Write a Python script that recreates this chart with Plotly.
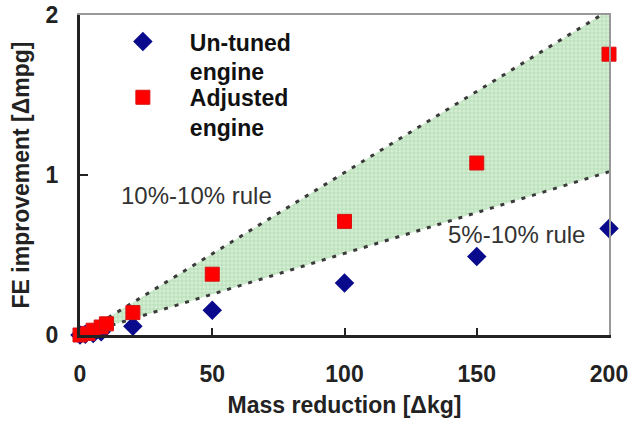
import plotly.graph_objects as go

# Data
untuned_x = [0, 2, 5, 8, 20, 50, 100, 150, 200]
untuned_y = [0.0, 0.005, 0.01, 0.02, 0.055, 0.155, 0.325, 0.49, 0.665]
adjusted_x = [0, 3, 5, 8, 10, 20, 50, 100, 150, 200]
adjusted_y = [0.0, 0.01, 0.03, 0.05, 0.07, 0.14, 0.38, 0.71, 1.075, 1.755]
rule_x = [0, 200]
rule_10_10 = [0, 2.03]
rule_5_10 = [0, 1.02]
x_ticks = [0, 50, 100, 150, 200]
y_ticks = [0, 1, 2]

FONT = "Liberation Sans, Arial, sans-serif"

fig = go.Figure()

# Shaded band between the two rules
fig.add_trace(go.Scatter(x=rule_x, y=rule_5_10, mode="lines", line=dict(width=0),
                         showlegend=False, hoverinfo="skip"))
fig.add_trace(go.Scatter(x=rule_x, y=rule_10_10, mode="lines", line=dict(width=0),
                         fill="tonexty", fillcolor="rgba(200,232,200,1)",
                         fillpattern=dict(shape="+", size=4, solidity=0.35,
                                          fgcolor="rgba(130,195,130,0.9)",
                                          bgcolor="rgba(212,238,212,1)"),
                         showlegend=False, hoverinfo="skip"))
# Dotted rule lines
for ys in (rule_10_10, rule_5_10):
    fig.add_trace(go.Scatter(x=rule_x, y=ys, mode="lines",
                             line=dict(color="#3a3a3a", width=3, dash="4px,7px"),
                             showlegend=False, hoverinfo="skip"))

fig.add_trace(go.Scatter(x=untuned_x, y=untuned_y, mode="markers", name="Un-tuned<br>engine",
                         legend="legend",
                         marker=dict(symbol="diamond", size=15, color="#0a0a8c"),
                         cliponaxis=False))
fig.add_trace(go.Scatter(x=adjusted_x, y=adjusted_y, mode="markers", name="Adjusted<br>engine",
                         legend="legend2",
                         marker=dict(symbol="square", size=14, color="#ff0000",
                                     line=dict(color="#d81010", width=1)),
                         cliponaxis=False))

# Invisible trace on mirror axes to draw the gray top/right frame
fig.add_trace(go.Scatter(x=rule_x, y=rule_5_10, xaxis="x2", yaxis="y2", mode="lines",
                         line=dict(width=0), showlegend=False, hoverinfo="skip"))

fig.add_annotation(x=44, y=0.875, text="10%-10% rule", showarrow=False,
                   font=dict(family=FONT, size=24, color="#333333"))
fig.add_annotation(x=165, y=0.63, text="5%-10% rule", showarrow=False,
                   font=dict(family=FONT, size=24, color="#333333"))

legend_font = dict(family=FONT, size=23, color="#111111", weight="bold")
fig.update_layout(
    width=631, height=423,
    margin=dict(l=80, r=22, t=15, b=88),
    paper_bgcolor="white", plot_bgcolor="white",
    font=dict(family=FONT, size=22, color="#222222"),
    showlegend=True,
    legend=dict(x=0.03, y=0.984, xanchor="left", yanchor="top", bgcolor="rgba(0,0,0,0)",
                font=legend_font, valign="top", itemwidth=84),
    legend2=dict(x=0.03, y=0.81, xanchor="left", yanchor="top", bgcolor="rgba(0,0,0,0)",
                 font=legend_font, valign="top", itemwidth=84),
    xaxis=dict(range=[0, 200], tickvals=x_ticks, showgrid=False, zeroline=False,
               automargin=False,
               showline=True, linecolor="#222222", linewidth=3,
               ticks="inside", ticklen=7, tickwidth=2, tickcolor="#222222",
               ticklabelstandoff=16,
               tickfont=dict(family=FONT, size=23, weight="bold"),
               title=dict(text="Mass reduction [Δkg]", standoff=12,
                          font=dict(family=FONT, size=23, weight="bold"))),
    yaxis=dict(range=[0, 2], tickvals=y_ticks, showgrid=False, zeroline=False,
               automargin=False,
               showline=True, linecolor="#222222", linewidth=3,
               ticks="inside", ticklen=8, tickwidth=2, tickcolor="#222222",
               ticklabelstandoff=14,
               tickfont=dict(family=FONT, size=23, weight="bold"),
               title=dict(text="FE improvement [Δmpg]", standoff=10,
                          font=dict(family=FONT, size=23, weight="bold"))),
    xaxis2=dict(range=[0, 200], overlaying="x", side="top", anchor="y2", automargin=False,
                showline=True, linecolor="#999999", linewidth=2,
                showticklabels=False, ticks="", showgrid=False, zeroline=False),
    yaxis2=dict(range=[0, 2], overlaying="y", side="right", anchor="x2", automargin=False,
                showline=True, linecolor="#999999", linewidth=2,
                showticklabels=False, ticks="", showgrid=False, zeroline=False),
)

fig.write_html("out.html")
